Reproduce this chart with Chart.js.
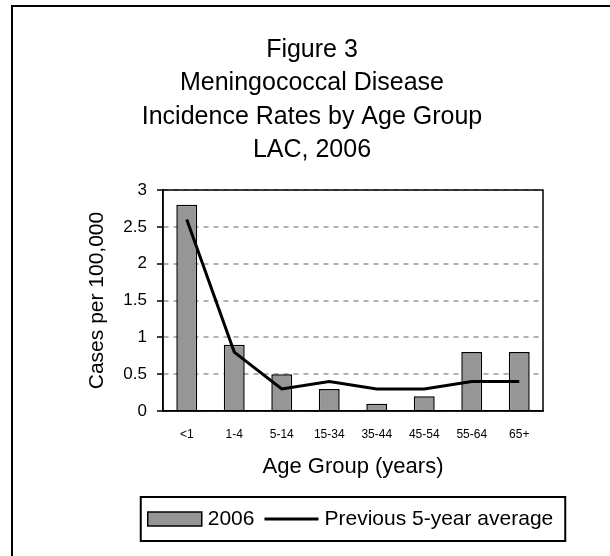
<!DOCTYPE html>
<html>
<head>
<meta charset="utf-8">
<title>Meningococcal Disease Incidence Rates by Age Group</title>
<script src="https://cdn.jsdelivr.net/npm/chart.js@4.4.1/dist/chart.umd.min.js"></script>
<style>
  html, body { margin: 0; padding: 0; background: #fff; }
  #wrap { position: relative; width: 610px; height: 556px; overflow: hidden; }
  #frame { position: absolute; left: 11px; top: 5px; width: 620px; height: 600px; border-top: 2px solid #000; border-left: 2px solid #000; }
  canvas { position: absolute; left: 0; top: 0; }
</style>
</head>
<body>
<div id="wrap">
  <div id="frame"></div>
  <canvas id="chart" width="610" height="556"></canvas>
</div>
<script>
const ageGroups = ["<1", "1-4", "5-14", "15-34", "35-44", "45-54", "55-64", "65+"];
const rates2006 = [2.8, 0.9, 0.5, 0.3, 0.1, 0.2, 0.8, 0.8];
const prevAverage = [2.6, 0.8, 0.3, 0.4, 0.3, 0.3, 0.4, 0.4];
const titleLines = ["Figure 3", "Meningococcal Disease", "Incidence Rates by Age Group", "LAC, 2006"];
const fontFamily = "'Liberation Sans', Arial, sans-serif";

Chart.defaults.font.family = fontFamily;
Chart.defaults.color = "#000";

// black box around the plot area
const plotFrame = {
  id: "plotFrame",
  beforeDatasetsDraw(chart) {
    const { ctx, chartArea } = chart;
    ctx.save();
    ctx.strokeStyle = "#000";
    ctx.lineWidth = 1.5;
    ctx.strokeRect(chartArea.left, chartArea.top, chartArea.right - chartArea.left, chartArea.bottom - chartArea.top);
    ctx.restore();
  }
};

// boxed legend under the axis title, centred on the plot
const boxLegend = {
  id: "boxLegend",
  afterDraw(chart) {
    const { ctx, chartArea } = chart;
    const ds = chart.data.datasets;
    ctx.save();
    ctx.font = "21px " + fontFamily;
    const swatchW = 54, gap = 6, itemGap = 10, padL = 7, padR = 12;
    const w0 = ctx.measureText(ds[0].label).width;
    const w1 = ctx.measureText(ds[1].label).width;
    const total = padL + swatchW + gap + w0 + itemGap + swatchW + gap + w1 + padR;
    const mid = (chartArea.left + chartArea.right) / 2;
    let x = mid - total / 2;
    const top = chartArea.bottom + 86, h = 44, cy = top + h / 2;

    ctx.strokeStyle = "#000";
    ctx.lineWidth = 2;
    ctx.strokeRect(x, top, total, h);
    x += padL;

    ctx.fillStyle = ds[0].backgroundColor;
    ctx.fillRect(x, cy - 7, swatchW, 14);
    ctx.lineWidth = 1.5;
    ctx.strokeRect(x, cy - 7, swatchW, 14);
    x += swatchW + gap;

    ctx.fillStyle = "#000";
    ctx.textBaseline = "middle";
    ctx.fillText(ds[0].label, x, cy);
    x += w0 + itemGap;

    ctx.lineWidth = 3;
    ctx.beginPath();
    ctx.moveTo(x, cy);
    ctx.lineTo(x + swatchW, cy);
    ctx.stroke();
    x += swatchW + gap;
    ctx.fillText(ds[1].label, x, cy);
    ctx.restore();
  }
};

const ctx = document.getElementById("chart").getContext("2d");

const chart = new Chart(ctx, {
  type: "bar",
  data: {
    labels: ageGroups,
    datasets: [{
      label: "2006",
      data: rates2006,
      backgroundColor: "#969696",
      borderColor: "#000",
      borderWidth: 1.5,
      barPercentage: 0.44,
      categoryPercentage: 1,
      order: 2
    }, {
      type: "line",
      label: "Previous 5-year average",
      data: prevAverage,
      borderColor: "#000",
      borderWidth: 3,
      pointRadius: 0,
      tension: 0,
      fill: false,
      order: 1
    }]
  },
  options: {
    responsive: false,
    animation: false,
    layout: {
      padding: { left: 81, right: 67, top: 0, bottom: 74 }
    },
    plugins: {
      legend: { display: false },
      tooltip: { enabled: false },
      title: {
        display: true,
        text: titleLines,
        color: "#000",
        font: { size: 25, weight: "normal", lineHeight: 1.34 },
        padding: { top: 33, bottom: 23 }
      }
    },
    scales: {
      x: {
        grid: { display: false, drawTicks: false },
        border: { color: "#000", width: 1.5 },
        ticks: { font: { size: 12 }, padding: 16, autoSkip: false, maxRotation: 0 },
        title: {
          display: true,
          text: "Age Group (years)",
          font: { size: 22 },
          padding: { top: 4, bottom: 2 }
        },
        afterFit(scale) { scale.height = 71; }
      },
      y: {
        min: 0,
        max: 3,
        ticks: {
          stepSize: 0.5,
          font: { size: 17 },
          padding: 10,
          callback: (value) => String(value)
        },
        grid: {
          color: "#b0b0b0",
          lineWidth: 2,
          tickLength: 6,
          tickColor: "#000",
          tickWidth: 1.5,
          tickBorderDash: []
        },
        border: { color: "#000", width: 1.5, dash: [5, 5] },
        title: {
          display: true,
          text: "Cases per 100,000",
          font: { size: 21 },
          padding: { top: 4, bottom: 0 }
        },
        afterFit(scale) { scale.width = 82; }
      }
    }
  },
  plugins: [plotFrame, boxLegend]
});
</script>
</body>
</html>
